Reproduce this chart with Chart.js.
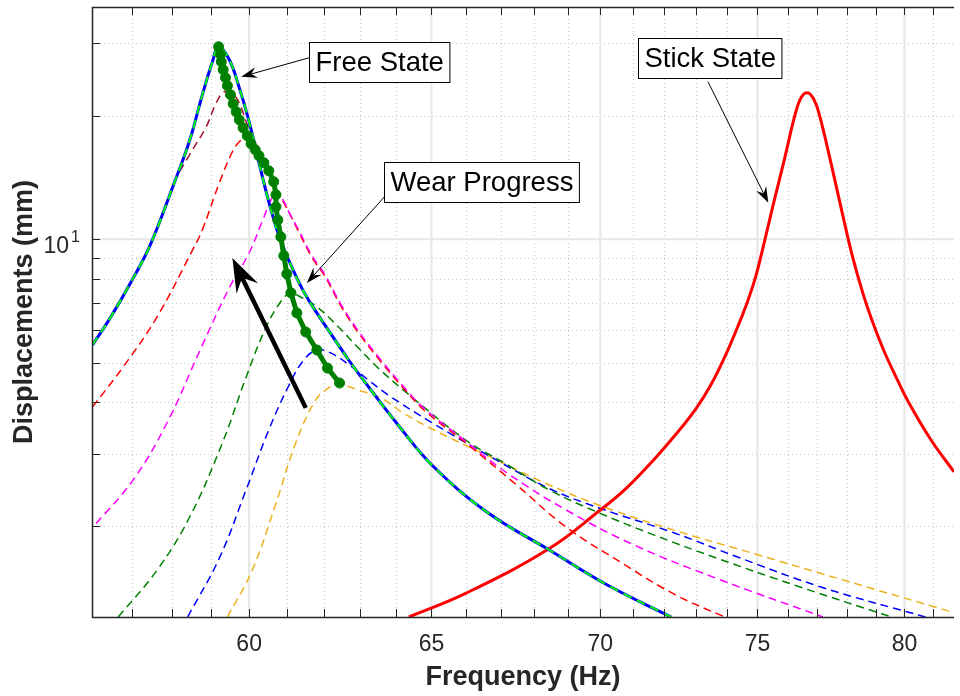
<!DOCTYPE html>
<html>
<head>
<meta charset="utf-8">
<script src="https://cdn.jsdelivr.net/npm/chart.js@4.4.1/dist/chart.umd.min.js"></script>
<style>
    html, body { margin: 0; padding: 0; background: #fff; }
</style>
</head>
<body>
<canvas id="frf-chart" width="960" height="696"></canvas>
<script>
// axis ticks
const xTickLabels = [60, 65, 70, 75, 80];
const xMinorTicks = [57, 58, 59, 61, 62, 63, 64, 66, 67, 68, 69, 71, 72, 73, 74, 76, 77, 78, 79, 81];
const yTickLabels = [10];
const yMinorTicks = [2, 3, 4, 5, 6, 7, 8, 9, 20, 30];

// free state response (Hz / mm)
const freeFreq = [56.01, 56.45, 56.94, 57.44, 58.07, 58.45, 58.78, 59.04, 59.20, 59.48, 59.74, 60.00, 60.26, 60.52, 60.79, 61.06, 61.40, 61.72, 62.05, 62.67, 63.14, 64.06, 65.04, 66.61, 68.44, 70.19, 72.21];
const freeAmp = [5.52, 6.43, 7.78, 9.63, 13.80, 17.37, 22.49, 27.06, 29.44, 27.37, 23.39, 19.32, 15.35, 12.33, 10.19, 8.85, 7.61, 6.80, 6.14, 5.09, 4.47, 3.52, 2.80, 2.16, 1.75, 1.44, 1.20];

// wear steps, first to last
const brownFreq = [56.01, 56.45, 56.94, 57.44, 58.07, 58.45, 58.88, 59.14, 59.35, 59.56, 59.74, 59.92, 60.13, 60.31, 60.52, 60.79, 61.06, 61.40, 61.72, 62.05, 62.67, 63.14, 64.06, 65.04, 66.61, 68.44, 70.19, 72.21];
const brownAmp = [5.52, 6.43, 7.78, 9.63, 13.80, 16.06, 18.79, 21.50, 22.87, 22.62, 21.50, 19.32, 17.27, 14.59, 12.33, 10.19, 8.85, 7.61, 6.80, 6.14, 5.09, 4.47, 3.52, 2.80, 2.16, 1.75, 1.44, 1.20];

const redFreq = [56.01, 56.77, 57.62, 58.53, 58.78, 59.22, 59.56, 59.74, 59.92, 60.08, 60.18, 60.39, 60.65, 60.98, 61.32, 61.67, 62.02, 62.48, 62.95, 63.58, 64.20, 64.79, 65.98, 67.47, 68.95, 70.75, 72.34, 73.93];
const redAmp = [3.90, 4.88, 6.46, 9.42, 10.54, 13.72, 16.33, 17.27, 17.77, 17.66, 16.98, 15.44, 13.56, 11.99, 10.42, 9.05, 8.14, 6.84, 5.91, 5.02, 4.34, 3.83, 3.19, 2.52, 1.99, 1.61, 1.36, 1.20];

const magentaFreq = [56.01, 57.02, 57.87, 58.78, 59.48, 60.00, 60.34, 60.58, 60.74, 60.90, 61.11, 61.32, 61.67, 62.02, 62.48, 62.95, 63.58, 64.20, 64.79, 65.98, 67.20, 68.95, 71.03, 73.67, 77.19];
const magentaAmp = [1.98, 2.59, 3.56, 5.52, 7.61, 9.26, 11.02, 12.47, 13.05, 12.47, 11.40, 10.52, 9.14, 8.22, 6.91, 5.97, 5.07, 4.38, 3.87, 3.22, 2.69, 2.19, 1.80, 1.49, 1.20];

const dgreenFreq = [56.65, 57.62, 58.45, 59.30, 59.92, 60.45, 60.87, 61.11, 61.32, 61.78, 62.40, 62.95, 63.50, 64.30, 65.98, 67.20, 68.44, 69.98, 71.68, 73.67, 76.42, 79.55];
const dgreenAmp = [1.20, 1.56, 2.10, 3.19, 4.61, 6.11, 7.11, 7.40, 7.27, 6.88, 6.11, 5.43, 4.85, 4.22, 3.24, 2.82, 2.45, 2.15, 1.90, 1.67, 1.42, 1.20];

const blueFreq = [58.40, 59.22, 59.92, 60.52, 61.06, 61.46, 61.81, 62.13, 62.67, 63.22, 63.78, 65.04, 66.74, 68.44, 69.98, 72.34, 74.35, 77.12, 80.74];
const blueAmp = [1.20, 1.67, 2.45, 3.43, 4.41, 5.08, 5.37, 5.31, 4.96, 4.54, 4.17, 3.56, 2.94, 2.47, 2.21, 1.92, 1.68, 1.42, 1.20];

const orangeFreq = [59.43, 60.08, 60.71, 61.24, 61.78, 62.13, 62.35, 62.61, 62.95, 63.58, 64.20, 65.18, 66.47, 68.44, 70.22, 72.34, 75.03, 77.83, 81.76];
const orangeAmp = [1.20, 1.56, 2.27, 3.19, 4.06, 4.34, 4.44, 4.39, 4.29, 4.10, 3.77, 3.39, 3.01, 2.52, 2.21, 1.95, 1.70, 1.48, 1.23];

// stick state response
const stickFreq = [64.36, 65.98, 68.44, 70.01, 70.80, 71.68, 72.37, 73.00, 73.48, 73.96, 74.35, 74.67, 74.94, 75.19, 75.52, 75.89, 76.25, 76.45, 76.65, 76.85, 77.05, 77.46, 77.86, 78.20, 78.55, 78.89, 79.27, 79.72, 80.14, 80.94, 81.76];
const stickAmp = [1.20, 1.37, 1.76, 2.19, 2.47, 2.91, 3.35, 3.86, 4.41, 5.22, 6.11, 7.03, 8.09, 9.58, 12.12, 15.61, 20.11, 22.11, 22.74, 22.11, 20.32, 15.35, 11.46, 9.05, 7.40, 6.28, 5.37, 4.59, 4.01, 3.24, 2.71];

// peak locus while wearing
const pathFreq = [59.20, 59.25, 59.27, 59.32, 59.38, 59.43, 59.51, 59.58, 59.66, 59.74, 59.84, 59.95, 60.05, 60.16, 60.26, 60.39, 60.52, 60.65, 60.71, 60.71, 60.76, 60.84, 60.92, 61.00, 61.11, 61.27, 61.51, 61.81, 62.10, 62.43];
const pathAmp = [29.44, 28.15, 27.06, 25.87, 24.73, 23.65, 22.49, 21.38, 20.44, 19.54, 18.68, 17.86, 17.08, 16.52, 15.97, 15.35, 14.68, 13.80, 12.83, 11.99, 11.14, 10.13, 9.11, 8.23, 7.40, 6.61, 5.94, 5.37, 4.85, 4.46];

const FONT = "'Liberation Sans', Arial, Helvetica, sans-serif";
const INK = '#262626';
const DASH = [8, 5];

// text boxes and arrows, anchored in data units (Hz, mm)
const notes = [
    { text: 'Free State', box: [61.61, 30.28], from: [61.61, 27.69], to: [59.79, 24.87] },
    { text: 'Wear Progress', box: [63.67, 15.44], from: [63.67, 12.68], to: [61.54, 7.82] },
    { text: 'Stick State', box: [71.18, 30.97], from: [73.39, 24.19], to: [75.36, 12.26] }
];
const wearArrow = { from: [61.51, 3.88], to: [59.56, 9.00] };

const pts = (fs, as) => fs.map((f, i) => ({ x: f, y: as[i] }));

const dashed = (label, fs, as, color, order) => ({
    label: label,
    data: pts(fs, as),
    borderColor: color,
    borderWidth: 1.5,
    borderDash: DASH,
    order: order
});

function arrow(ctx, x0, y0, x1, y1, width, len, wid) {
    const ang = Math.atan2(y1 - y0, x1 - x0);
    const ux = Math.cos(ang), uy = Math.sin(ang);
    const nx = -uy, ny = ux;
    const bx = x1 - ux * len, by = y1 - uy * len;
    const mx = x1 - ux * len * 0.65, my = y1 - uy * len * 0.65;
    ctx.lineWidth = width;
    ctx.beginPath();
    ctx.moveTo(x0, y0);
    ctx.lineTo(mx, my);
    ctx.stroke();
    ctx.beginPath();
    ctx.moveTo(x1, y1);
    ctx.lineTo(bx + nx * wid / 2, by + ny * wid / 2);
    ctx.lineTo(mx, my);
    ctx.lineTo(bx - nx * wid / 2, by - ny * wid / 2);
    ctx.closePath();
    ctx.fill();
}

// length of the drawn bezier path up to point index
function curveLength(points, upto) {
    let s = 0;
    for (let i = 1; i <= upto; i++) {
        const a = points[i - 1], b = points[i];
        const c1x = a.cp2x ?? a.x, c1y = a.cp2y ?? a.y;
        const c2x = b.cp1x ?? b.x, c2y = b.cp1y ?? b.y;
        let px = a.x, py = a.y;
        for (let k = 1; k <= 16; k++) {
            const t = k / 16, u = 1 - t;
            const qx = u * u * u * a.x + 3 * u * u * t * c1x + 3 * u * t * t * c2x + t * t * t * b.x;
            const qy = u * u * u * a.y + 3 * u * u * t * c1y + 3 * u * t * t * c2y + t * t * t * b.y;
            s += Math.hypot(qx - px, qy - py);
            px = qx; py = qy;
        }
    }
    return s;
}

const frameNotes = {
    id: 'frameNotes',
    beforeDatasetsDraw(chart) {
        const { ctx, chartArea: a, scales: { x, y } } = chart;

        // line up magenta dashes with red ones where the two curves coincide
        const red = chart.getDatasetMeta(5), mag = chart.getDatasetMeta(6);
        const period = DASH[0] + DASH[1];
        const off = (((curveLength(red.data, 14) - curveLength(mag.data, 11)) % period) + period) % period;
        mag.dataset.options = Object.assign({}, mag.dataset.options, { borderDashOffset: off });

        ctx.save();
        ctx.lineWidth = 1;
        ctx.strokeStyle = '#c6c6c6';
        ctx.setLineDash([1, 3]);
        ctx.beginPath();
        xMinorTicks.forEach(v => {
            const px = Math.round(x.getPixelForValue(v)) + 0.5;
            ctx.moveTo(px, a.top); ctx.lineTo(px, a.bottom);
        });
        yMinorTicks.forEach(v => {
            const py = Math.round(y.getPixelForValue(v)) + 0.5;
            ctx.moveTo(a.left, py); ctx.lineTo(a.right, py);
        });
        ctx.stroke();
        ctx.setLineDash([]);
        ctx.strokeStyle = '#e6e6e6';
        ctx.lineWidth = 2;
        ctx.beginPath();
        xTickLabels.forEach(v => {
            const px = x.getPixelForValue(v);
            ctx.moveTo(px, a.top); ctx.lineTo(px, a.bottom);
        });
        yTickLabels.forEach(v => {
            const py = y.getPixelForValue(v);
            ctx.moveTo(a.left, py); ctx.lineTo(a.right, py);
        });
        ctx.stroke();
        ctx.restore();
    },
    afterDatasetsDraw(chart) {
        const { ctx, chartArea: a, scales: { x, y } } = chart;
        ctx.save();
        // axes box, right side is off canvas
        ctx.strokeStyle = INK;
        ctx.lineWidth = 1.5;
        ctx.beginPath();
        ctx.moveTo(a.right, a.top + 0.5);
        ctx.lineTo(a.left + 0.5, a.top + 0.5);
        ctx.lineTo(a.left + 0.5, a.bottom + 0.5);
        ctx.lineTo(a.right, a.bottom + 0.5);
        ctx.stroke();
        // inward ticks
        ctx.lineWidth = 1;
        ctx.beginPath();
        [...xTickLabels, ...xMinorTicks].forEach(v => {
            const px = Math.round(x.getPixelForValue(v)) + 0.5;
            ctx.moveTo(px, a.bottom); ctx.lineTo(px, a.bottom - 8);
            ctx.moveTo(px, a.top); ctx.lineTo(px, a.top + 8);
        });
        [...yTickLabels, ...yMinorTicks].forEach(v => {
            const py = Math.round(y.getPixelForValue(v)) + 0.5;
            ctx.moveTo(a.left, py); ctx.lineTo(a.left + 8, py);
        });
        ctx.stroke();
        // 10^1 label
        ctx.fillStyle = INK;
        yTickLabels.forEach(v => {
            const py = y.getPixelForValue(v);
            ctx.font = '23px ' + FONT;
            ctx.textAlign = 'right';
            ctx.textBaseline = 'alphabetic';
            ctx.fillText('10', a.left - 23, py + 14);
            ctx.font = '16px ' + FONT;
            ctx.textAlign = 'left';
            ctx.fillText('1', a.left - 21, py + 3);
        });
        // big wear arrow
        ctx.fillStyle = '#000';
        ctx.strokeStyle = '#000';
        arrow(ctx,
            x.getPixelForValue(wearArrow.from[0]), y.getPixelForValue(wearArrow.from[1]),
            x.getPixelForValue(wearArrow.to[0]), y.getPixelForValue(wearArrow.to[1]),
            4.5, 34, 24);
        // labelled boxes
        notes.forEach(n => {
            ctx.fillStyle = '#000';
            ctx.strokeStyle = '#000';
            arrow(ctx,
                x.getPixelForValue(n.from[0]), y.getPixelForValue(n.from[1]),
                x.getPixelForValue(n.to[0]), y.getPixelForValue(n.to[1]),
                1, 16, 11);
            ctx.font = '27.5px ' + FONT;
            const w = ctx.measureText(n.text).width + 12;
            const bx = Math.round(x.getPixelForValue(n.box[0])) + 0.5;
            const by = Math.round(y.getPixelForValue(n.box[1])) + 0.5;
            ctx.fillStyle = '#fff';
            ctx.fillRect(bx, by, w, 40);
            ctx.lineWidth = 1;
            ctx.strokeRect(bx, by, w, 40);
            ctx.fillStyle = '#000';
            ctx.textAlign = 'left';
            ctx.textBaseline = 'middle';
            ctx.fillText(n.text, bx + 6, by + 21);
        });
        ctx.restore();
    }
};

const ctx = document.getElementById('frf-chart').getContext('2d');
const chart = new Chart(ctx, {
    type: 'scatter',
    data: {
        datasets: [
            {
                label: 'Peak path',
                data: pts(pathFreq, pathAmp),
                borderColor: '#008000',
                backgroundColor: '#008000',
                borderWidth: 5,
                tension: 0,
                pointRadius: 5,
                pointBorderWidth: 1,
                pointBorderColor: '#008000',
                order: 0
            },
            {
                label: 'Free State',
                data: pts(freeFreq, freeAmp),
                borderColor: '#00ff00',
                borderWidth: 2,
                borderDash: [9, 6],
                order: 1
            },
            {
                label: 'Free State base',
                data: pts(freeFreq, freeAmp),
                borderColor: '#0000ff',
                borderWidth: 3,
                order: 2
            },
            dashed('Wear 1', brownFreq, brownAmp, '#A2142F', 3),
            {
                label: 'Stick State',
                data: pts(stickFreq, stickAmp),
                borderColor: '#ff0000',
                borderWidth: 3,
                order: 4
            },
            dashed('Wear 2', redFreq, redAmp, '#ff0000', 6),
            dashed('Wear 3', magentaFreq, magentaAmp, '#ff00ff', 5),
            dashed('Wear 4', dgreenFreq, dgreenAmp, '#008000', 7),
            dashed('Wear 5', blueFreq, blueAmp, '#0000ff', 8),
            dashed('Wear 6', orangeFreq, orangeAmp, '#EDB120', 9)
        ]
    },
    options: {
        responsive: false,
        devicePixelRatio: 1,
        animation: false,
        showLine: true,
        elements: {
            point: { radius: 0, hoverRadius: 0 },
            line: { tension: 0.4, fill: false }
        },
        layout: { padding: { top: 7, right: 0, bottom: 0, left: 0 } },
        plugins: {
            legend: { display: false },
            tooltip: { enabled: false }
        },
        scales: {
            x: {
                type: 'logarithmic',
                min: 56,
                max: 81.76,
                afterBuildTicks: scale => {
                    scale.ticks = xTickLabels.map(v => ({ value: v }));
                },
                afterFit: scale => { scale.height = 79; },
                grid: { display: false, drawTicks: false },
                border: { display: false },
                ticks: {
                    autoSkip: false,
                    maxRotation: 0,
                    minRotation: 0,
                    padding: 14,
                    color: INK,
                    font: { family: FONT, size: 23 },
                    callback: v => String(v)
                },
                title: {
                    display: true,
                    text: 'Frequency (Hz)',
                    color: INK,
                    font: { family: FONT, size: 27, weight: 'bold' },
                    padding: { top: 0, bottom: 2 }
                }
            },
            y: {
                type: 'logarithmic',
                min: 1.2,
                max: 36.8,
                afterFit: scale => { scale.width = 92; },
                grid: { display: false, drawTicks: false },
                border: { display: false },
                ticks: { display: false },
                title: {
                    display: true,
                    text: 'Displacements (mm)',
                    color: INK,
                    font: { family: FONT, size: 27, weight: 'bold' },
                    padding: { top: 8, bottom: 0 }
                }
            }
        }
    },
    plugins: [frameNotes]
});
</script>
</body>
</html>
